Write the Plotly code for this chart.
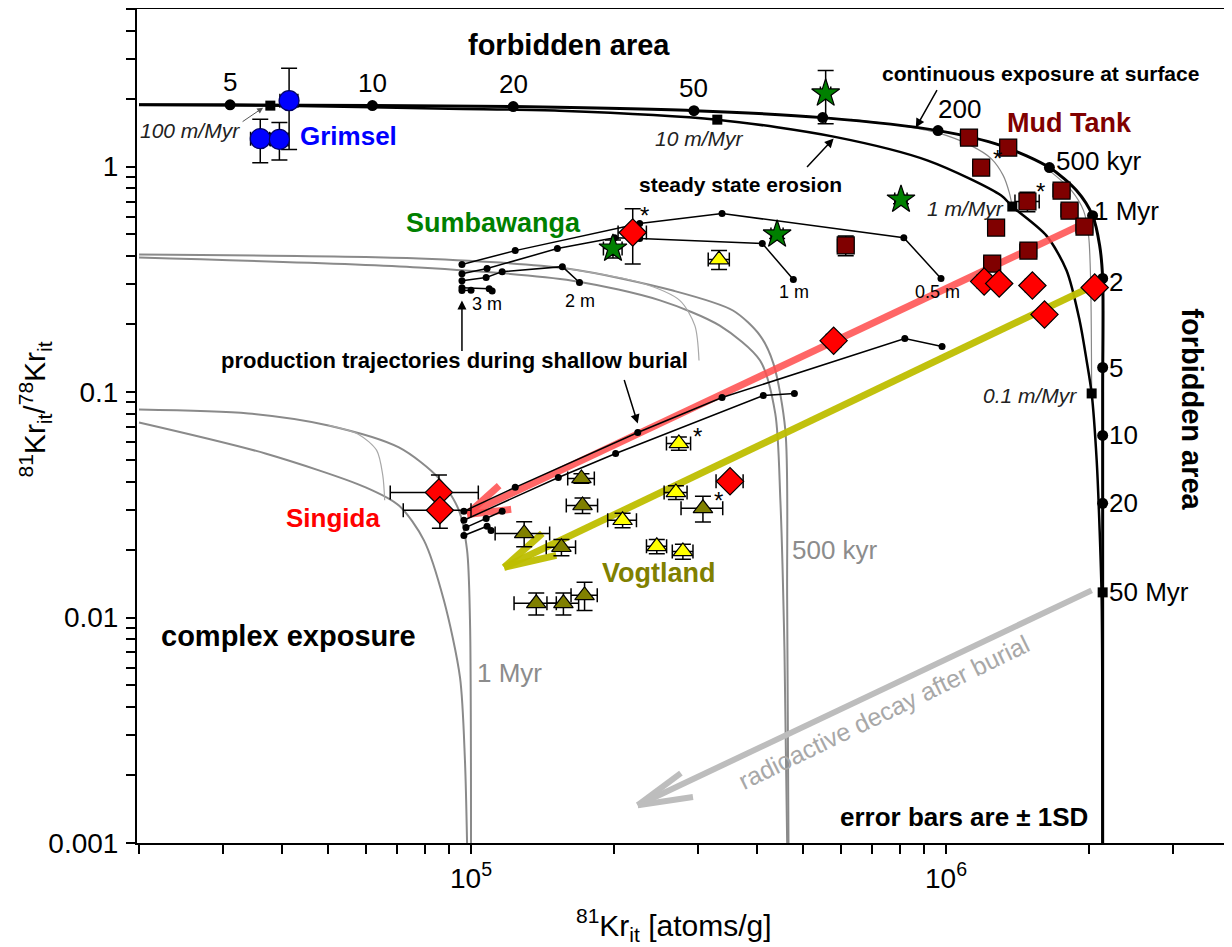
import numpy as np
import plotly.graph_objects as go

# ---------------- data ----------------
# continuous exposure at surface (thick black)
surf_x = [2.0e4, 3.11e4, 6.2e4, 1.227e5, 2.947e5, 5.5e5, 9.62e5, 1.307e6, 1.651e6, 1.883e6,
          2.035e6, 2.106e6, 2.137e6, 2.137e6, 2.137e6]
surf_y = [1.88, 1.88, 1.864, 1.845, 1.771, 1.649, 1.444, 1.239, 0.99, 0.783,
          0.606, 0.447, 0.319, 0.1, 0.001]
# exposure-age markers on that curve
age_x = [3.11e4, 6.2e4, 1.227e5, 2.947e5, 5.5e5, 9.62e5, 1.651e6, 2.035e6, 2.137e6, 2.137e6, 2.137e6, 2.137e6]
age_y = [1.88, 1.864, 1.845, 1.771, 1.649, 1.444, 0.99, 0.606, 0.319, 0.1285, 0.0642, 0.0321]
age_text = ["5", "10", "20", "50", "", "200", "500 kyr", "1 Myr", "2", "5", "10", "20"]
age50_x = [2.137e6]
age50_y = [0.01293]
age50_text = ["50 Myr"]

# steady state erosion (black)
eros_x = [2.0e4, 3.78e4, 8.98e4, 1.535e5, 3.30e5, 5.80e5, 9.16e5, 1.307e6, 1.379e6, 1.627e6,
          1.794e6, 1.911e6, 1.977e6, 2.026e6, 2.076e6, 2.106e6, 2.127e6, 2.137e6]
eros_y = [1.88, 1.864, 1.807, 1.771, 1.615, 1.358, 1.063, 0.744, 0.665, 0.494,
          0.346, 0.2077, 0.138, 0.0986, 0.0497, 0.02434, 0.01192, 0.001]
rate_x = [3.78e4, 3.30e5, 1.379e6, 2.026e6]
rate_y = [1.864, 1.615, 0.665, 0.0986]
rate_text = ["100 m/Myr", "10 m/Myr", "1 m/Myr", "0.1 m/Myr"]

# thin connecting curves near the surface curve
thinA_x = [6.30e5, 8.04e5, 9.62e5, 1.129e6, 1.245e6, 1.32e6, 1.359e6, 1.379e6]
thinA_y = [1.62, 1.52, 1.41, 1.239, 1.085, 0.912, 0.767, 0.665]
thinB_x = [1.651e6, 1.838e6, 1.948e6, 1.996e6, 2.016e6, 2.026e6]
thinB_y = [0.96, 0.783, 0.638, 0.494, 0.3125, 0.0986]

# burial isochrons (grey): 500 kyr family
iso500a_x = [2.0e4, 7.77e4, 1.59e5, 2.66e5, 3.56e5, 4.06e5, 4.33e5, 4.59e5, 4.63e5, 4.66e5]
iso500a_y = [0.407, 0.391, 0.353, 0.282, 0.230, 0.178, 0.134, 0.0676, 0.0119, 0.001]
iso500b_x = [2.0e4, 7.77e4, 1.635e5, 2.50e5, 3.34e5, 4.06e5, 4.37e5, 4.48e5, 4.57e5, 4.63e5]
iso500b_y = [0.395, 0.357, 0.312, 0.255, 0.197, 0.138, 0.0804, 0.0331, 0.00716, 0.001]
iso500t_x = [1.59e5, 2.27e5, 2.75e5, 2.96e5, 3.02e5]
iso500t_y = [0.353, 0.306, 0.255, 0.197, 0.138]
# 1 Myr family
iso1a_x = [2.0e4, 3.40e4, 5.01e4, 7.05e4, 8.56e4, 9.43e4, 9.81e4, 9.95e4, 1.0e5]
iso1a_y = [0.0837, 0.0804, 0.0711, 0.0568, 0.0414, 0.0299, 0.0199, 0.00972, 0.001]
iso1b_x = [2.0e4, 3.69e4, 6.0e4, 7.05e4, 7.96e4, 8.77e4, 9.48e4, 9.71e4, 9.81e4]
iso1b_y = [0.0733, 0.0534, 0.0378, 0.0314, 0.0220, 0.0119, 0.00543, 0.00233, 0.001]
iso1t_x = [5.01e4, 5.80e4, 6.33e4, 6.52e4, 6.58e4]
iso1t_y = [0.0711, 0.0649, 0.0551, 0.0427, 0.0331]

# production trajectories during shallow burial (upper group)
t05_x = [9.57e4, 1.239e5, 2.265e5, 3.377e5, 8.15e5, 9.76e5]
t05_y = [0.368, 0.424, 0.559, 0.619, 0.484, 0.319]
t1_x = [9.57e4, 1.081e5, 1.52e5, 2.006e5, 2.265e5, 4.104e5, 4.771e5]
t1_y = [0.335, 0.353, 0.433, 0.484, 0.48, 0.456, 0.316]
t2_x = [9.57e4, 1.076e5, 1.163e5, 1.557e5, 1.692e5]
t2_y = [0.312, 0.322, 0.342, 0.360, 0.306]
t3_x = [9.57e4, 1.092e5, 1.108e5]
t3_y = [0.290, 0.287, 0.281]
t4_x = [9.57e4, 1.00e5]
t4_y = [0.282, 0.283]
# lower group
p1_x = [9.66e4, 1.239e5, 2.244e5, 3.377e5, 8.19e5, 9.81e5]
p1_y = [0.0296, 0.0378, 0.0662, 0.0946, 0.1728, 0.1593]
p2_x = [9.66e4, 1.527e5, 2.016e5, 4.124e5, 4.795e5]
p2_y = [0.0270, 0.0418, 0.0534, 0.0966, 0.0986]
p3_x = [9.76e4, 1.076e5, 1.163e5]
p3_y = [0.0251, 0.0275, 0.0296]
p4_x = [9.66e4, 1.081e5, 1.102e5]
p4_y = [0.0231, 0.0254, 0.0243]

# big arrows: start, tip, barb 1, barb 2
red_arrow_x = [1.929e6, 9.81e4, 1.146e5, 1.215e5]
red_arrow_y = [0.553, 0.02867, 0.0385, 0.0302]
olive_arrow_x = [2.046e6, 1.174e5, 1.413e5, 1.512e5]
olive_arrow_y = [0.2968, 0.0167, 0.0236, 0.01887]
grey_arrow_x = [2.026e6, 2.244e5, 2.766e5, 2.933e5]
grey_arrow_y = [0.0132, 0.00147, 0.00204, 0.0016]

# samples
grimsel_x = [4.14e4, 3.60e4, 3.95e4]
grimsel_y = [1.96, 1.33, 1.32]
grimsel_ex = [0.18e4, 0.165e4, 0.17e4]
grimsel_ey = [0.77, 0.29, 0.25]

sumba_x = [5.58e5, 8.04e5, 4.41e5, 1.99e5]
sumba_y = [2.11, 0.714, 0.50, 0.433]
sumba_ex = [1.4e4, 2.4e4, 1.3e4, 0.9e4]
sumba_ey = [0.56, 0.03, 0.02, 0.04]

singida_x = [2.19e5, 5.80e5, 8.56e4, 8.60e4, 3.51e5, 1.203e6, 1.294e6, 1.52e6, 1.612e6, 2.056e6]
singida_y = [0.51, 0.169, 0.0359, 0.0299, 0.0402, 0.309, 0.303, 0.297, 0.221, 0.291]
singida_ex = [1.5e4, 2.0e4, 1.8e4, 1.4e4, 2.3e4, 4e4, 4e4, 5e4, 5e4, 6e4]
singida_ey = [0.14, 0.008, 0.007, 0.005, 0.002, 0.014, 0.014, 0.014, 0.01, 0.013]

mud_x = [1.118e6, 1.352e6, 1.186e6, 1.751e6, 1.484e6, 1.82e6, 1.957e6, 1.275e6, 1.491e6, 1.251e6, 6.15e5]
mud_y = [1.345, 1.214, 0.99, 0.783, 0.70, 0.638, 0.542, 0.5365, 0.4243, 0.3715, 0.447]
mud_ex = [4.5e4, 5.4e4, 4.7e4, 7.0e4, 8.7e4, 7.3e4, 7.8e4, 5.1e4, 6.0e4, 5.0e4, 2.4e4]
mud_ey = [0.05, 0.05, 0.04, 0.03, 0.07, 0.025, 0.02, 0.02, 0.017, 0.015, 0.045]

vy_x = [2.739e5, 2.70e5, 2.085e5, 2.461e5, 2.793e5, 3.328e5]
vy_y = [0.0592, 0.0359, 0.0270, 0.0207, 0.01965, 0.387]
vy_ex = [1.6e4, 1.5e4, 1.45e4, 1.2e4, 1.4e4, 1.7e4]
vy_ey = [0.004, 0.0025, 0.002, 0.0015, 0.0015, 0.037]

vo_x = [1.708e5, 1.717e5, 3.078e5, 1.294e5, 1.55e5, 1.372e5, 1.565e5, 1.734e5]
vo_y = [0.0414, 0.0314, 0.0305, 0.0236, 0.0205, 0.01156, 0.01156, 0.01254]
vo_ex = [1.1e4, 1.3e4, 3.1e4, 1.7e4, 1.1e4, 1.4e4, 1.2e4, 1.1e4]
vo_ey = [0.002, 0.0025, 0.004, 0.003, 0.0017, 0.0013, 0.0013, 0.0018]

# axis ticks
x_ticks = [2e4, 3e4, 4e4, 5e4, 6e4, 7e4, 8e4, 9e4, 1e5, 2e5, 3e5, 4e5, 5e5, 6e5, 7e5, 8e5, 9e5,
           1e6, 2e6, 3e6, 4e6]
x_tick_text = ["" for _ in x_ticks]
x_tick_text[x_ticks.index(1e5)] = "10<sup>5</sup>"
x_tick_text[x_ticks.index(1e6)] = "10<sup>6</sup>"
y_ticks = [m * 10.0 ** e for e in (-3, -2, -1) for m in range(1, 10)] + [1, 2, 3, 4, 5]
y_tick_text = ["" for _ in y_ticks]
for v, t in [(0.001, "0.001"), (0.01, "0.01"), (0.1, "0.1"), (1, "1")]:
    y_tick_text[min(range(len(y_ticks)), key=lambda i: abs(y_ticks[i] - v))] = t

FONT = "Liberation Sans, Arial, sans-serif"

fig = go.Figure()


def add_line(x, y, color, width, smooth=True, markers=False, msize=6, msymbol="circle", opacity=1.0):
    fig.add_trace(go.Scatter(
        x=x, y=y, mode="lines+markers" if markers else "lines",
        line=dict(color=color, width=width, shape="spline" if smooth else "linear", smoothing=0.8),
        marker=dict(size=msize, color=color, symbol=msymbol),
        opacity=opacity, hoverinfo="skip", showlegend=False))


def add_arrow(ax_, ay_, color, width):
    xs = [ax_[0], ax_[1], None, ax_[2], ax_[1], None, ax_[1], ax_[3]]
    ys = [ay_[0], ay_[1], None, ay_[2], ay_[1], None, ay_[1], ay_[3]]
    fig.add_trace(go.Scatter(x=xs, y=ys, mode="lines",
                             line=dict(color=color, width=width),
                             hoverinfo="skip", showlegend=False))


# grey burial isochrons
for xx, yy in [(iso500a_x, iso500a_y), (iso500b_x, iso500b_y), (iso1a_x, iso1a_y), (iso1b_x, iso1b_y)]:
    add_line(xx, yy, "#8a8a8a", 2)
for xx, yy in [(iso500t_x, iso500t_y), (iso1t_x, iso1t_y)]:
    add_line(xx, yy, "#a8a8a8", 1.2)

# thin connectors
add_line(thinA_x, thinA_y, "#888888", 1.2)
add_line(thinB_x, thinB_y, "#888888", 1.2)

# main curves
add_line(eros_x, eros_y, "black", 2.5)
add_line(surf_x, surf_y, "black", 3)

# big arrows
add_arrow(grey_arrow_x, grey_arrow_y, "#bdbdbd", 6)
add_arrow(olive_arrow_x, olive_arrow_y, "rgba(190,190,0,0.95)", 7)
add_arrow(red_arrow_x, red_arrow_y, "rgba(255,75,75,0.85)", 7)

# trajectories
for xx, yy in [(t05_x, t05_y), (t1_x, t1_y), (t2_x, t2_y), (t3_x, t3_y), (t4_x, t4_y),
               (p1_x, p1_y), (p2_x, p2_y), (p3_x, p3_y), (p4_x, p4_y)]:
    add_line(xx, yy, "black", 1.5, smooth=False, markers=True, msize=7)

# age markers and erosion-rate markers
fig.add_trace(go.Scatter(x=age_x, y=age_y, mode="markers",
                         marker=dict(size=11, color="black"), hoverinfo="skip", showlegend=False))
fig.add_trace(go.Scatter(x=age50_x, y=age50_y, mode="markers",
                         marker=dict(size=10, color="black", symbol="square"), hoverinfo="skip", showlegend=False))
fig.add_trace(go.Scatter(x=rate_x, y=rate_y, mode="markers",
                         marker=dict(size=10, color="black", symbol="square"), hoverinfo="skip", showlegend=False))


def add_points(x, y, ex, ey, symbol, size, color, lcolor="black"):
    fig.add_trace(go.Scatter(
        x=x, y=y, mode="markers",
        marker=dict(symbol=symbol, size=size, color=color, line=dict(color=lcolor, width=1.2)),
        error_x=dict(type="data", array=ex, color="black", thickness=1.5, width=7),
        error_y=dict(type="data", array=ey, color="black", thickness=1.5, width=8),
        hoverinfo="skip", showlegend=False))


add_points(vo_x, vo_y, vo_ex, vo_ey, "triangle-up", 17, "#808000")
add_points(vy_x, vy_y, vy_ex, vy_ey, "triangle-up", 17, "#ffff00")
add_points(mud_x, mud_y, mud_ex, mud_ey, "square", 17, "#800000")
add_points(sumba_x, sumba_y, sumba_ex, sumba_ey, "star", 21, "#008000")
add_points(singida_x, singida_y, singida_ex, singida_ey, "diamond", 21, "#ff0000")
add_points(grimsel_x, grimsel_y, grimsel_ex, grimsel_ey, "circle", 20, "#0000ff", "#000066")

# ---------------- annotations ----------------
ann = []


def ptext(xp, yp, text, size=21, color="black", xanchor="center", yanchor="middle", angle=0):
    ann.append(dict(x=xp, y=yp, xref="paper", yref="paper", text=text, showarrow=False,
                    font=dict(family=FONT, size=size, color=color),
                    xanchor=xanchor, yanchor=yanchor, textangle=angle))


# age labels
for i, t in enumerate(age_text):
    if not t:
        continue
    if i < 4:
        opts = dict(xanchor="center", yanchor="middle", xshift=0, yshift=23)
    elif t == "200":
        opts = dict(xanchor="left", yanchor="middle", xshift=-2, yshift=22)
    elif t == "500 kyr":
        opts = dict(xanchor="left", yanchor="middle", xshift=5, yshift=7)
    elif t == "1 Myr":
        opts = dict(xanchor="left", yanchor="middle", xshift=-1, yshift=5)
    elif t == "2":
        opts = dict(xanchor="left", yanchor="middle", xshift=4, yshift=-4)
    else:
        opts = dict(xanchor="left", yanchor="middle", xshift=4, yshift=0)
    ann.append(dict(x=np.log10(age_x[i]), y=np.log10(age_y[i]), xref="x", yref="y", text=t,
                    showarrow=False, font=dict(family=FONT, size=26, color="black"), **opts))
ann.append(dict(x=np.log10(age50_x[0]), y=np.log10(age50_y[0]), xref="x", yref="y", text=age50_text[0],
                showarrow=False, font=dict(family=FONT, size=26, color="black"),
                xanchor="left", yanchor="middle", xshift=4))

# erosion-rate labels
rate_off = [(-80, -25), (-18, -19), (-47, -2), (-62, -2)]
for (xs, ys), rx, ry, t in zip(rate_off, rate_x, rate_y, rate_text):
    ann.append(dict(x=np.log10(rx), y=np.log10(ry), xref="x", yref="y", text="<i>" + t + "</i>",
                    showarrow=False, font=dict(family=FONT, size=21, color="#222222"),
                    xanchor="center", yanchor="middle", xshift=xs, yshift=ys))

ptext(0.3945, 0.957, "<b>forbidden area</b>", 29)
ptext(0.9635, 0.520, "<b>forbidden area</b>", 29, angle=90)
ptext(0.8247, 0.923, "<b>continuous exposure at surface</b>", 21)
ptext(0.5507, 0.790, "<b>steady state erosion</b>", 21)
ptext(0.2904, 0.579, "<b>production trajectories during shallow burial</b>", 22)
ptext(0.1379, 0.248, "<b>complex exposure</b>", 29)
ptext(0.7553, 0.031, "<b>error bars are ± 1SD</b>", 26)
ptext(0.147, 0.848, "<b>Grimsel</b>", 26, "#0000ff", xanchor="left")
ptext(0.326, 0.743, "<b>Sumbawanga</b>", 27, "#008000")
ptext(0.852, 0.863, "<b>Mud Tank</b>", 27, "#800000")
ptext(0.179, 0.390, "<b>Singida</b>", 26, "#ff0000")
ptext(0.4767, 0.324, "<b>Vogtland</b>", 27, "#808000")
ptext(0.3196, 0.646, "3 m", 18)
ptext(0.4046, 0.650, "2 m", 18)
ptext(0.600, 0.661, "1 m", 18)
ptext(0.7315, 0.661, "0.5 m", 18)
ptext(0.6374, 0.351, "500 kyr", 26, "#8c8c8c")
ptext(0.3406, 0.204, "1 Myr", 26, "#8c8c8c")
ptext(0.6822, 0.157, "radioactive decay after burial", 25, "#a8a8a8", angle=-26)
for xp, yp in [(0.4639, 0.752), (0.7854, 0.821), (0.8247, 0.781), (0.5123, 0.487), (0.5306, 0.411)]:
    ptext(xp, yp, "*", 24)

# axis titles
ptext(-0.093, 0.52, "<sup>81</sup>Kr<sub>it</sub>/<sup>78</sup>Kr<sub>it</sub>", 30, angle=-90)
ptext(0.49, -0.098, "<sup>81</sup>Kr<sub>it</sub> [atoms/g]", 30)


# pointer arrows
def parrow(x, y, ax, ay, color="black", width=1.5):
    ann.append(dict(x=np.log10(x), y=np.log10(y), xref="x", yref="y", ax=ax, ay=ay,
                    showarrow=True, arrowhead=2, arrowsize=1.2, arrowwidth=width, arrowcolor=color, text=""))


parrow(3.65e4, 1.826, -22, 15, "#555555", 1)
parrow(8.64e5, 1.489, 22, -39)
parrow(5.80e5, 1.331, -28, 30)
parrow(9.57e4, 0.2547, 0, 52)
parrow(2.244e5, 0.0726, -14, -45)

# the page adds an 8 px body margin, so the figure is 8 px smaller than the window
fig.update_layout(
    width=1224, height=939,
    margin=dict(l=129, r=0, t=1, b=104, autoexpand=False),
    paper_bgcolor="white", plot_bgcolor="white",
    showlegend=False,
    font=dict(family=FONT, size=24, color="black"),
    annotations=ann,
    xaxis=dict(type="log", range=[4.2968, 6.6021], automargin=False,
               tickmode="array", tickvals=x_ticks, ticktext=x_tick_text,
               ticks="outside", ticklen=9, tickwidth=2, tickcolor="black",
               ticklabelstandoff=0,
               showline=True, linewidth=2, linecolor="black", mirror=True,
               showgrid=False, zeroline=False, tickfont=dict(family=FONT, size=28)),
    yaxis=dict(type="log", range=[-3, np.log10(5)], automargin=False,
               tickmode="array", tickvals=y_ticks, ticktext=y_tick_text,
               ticks="outside", ticklen=9, tickwidth=2, tickcolor="black",
               ticklabelstandoff=2,
               showline=True, linewidth=2, linecolor="black", mirror=False,
               showgrid=False, zeroline=False, tickfont=dict(family=FONT, size=28)),
)

fig.write_html("out.html")
